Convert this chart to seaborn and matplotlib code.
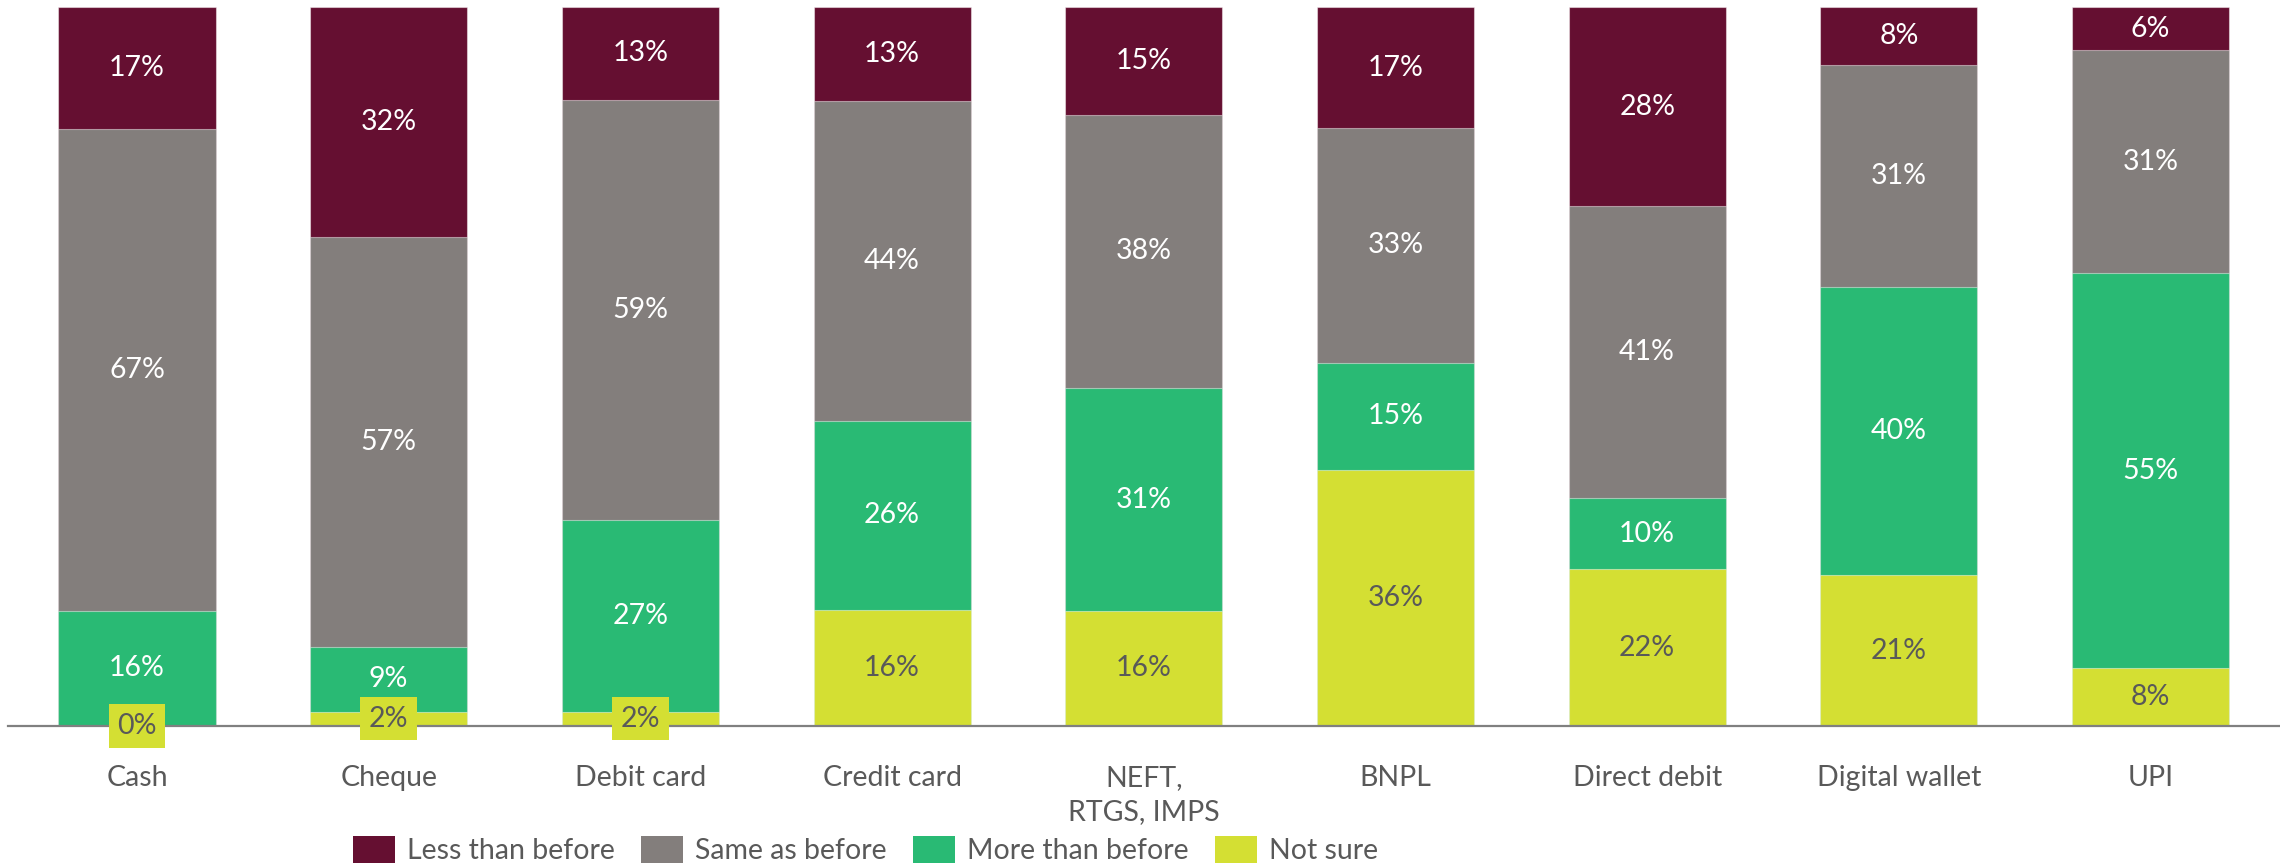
import numpy as np
import pandas as pd
import matplotlib
matplotlib.use("Agg")
import matplotlib.pyplot as plt
import seaborn as sns
from matplotlib.patches import Patch

# Payment methods and survey responses (% of respondents)
categories = ["Cash", "Cheque", "Debit card", "Credit card", "NEFT,\nRTGS, IMPS",
              "BNPL", "Direct debit", "Digital wallet", "UPI"]
less_than_before = [17, 32, 13, 13, 15, 17, 28, 8, 6]
same_as_before = [67, 57, 59, 44, 38, 33, 41, 31, 31]
more_than_before = [16, 9, 27, 26, 31, 15, 10, 40, 55]
not_sure = [0, 2, 2, 16, 16, 36, 22, 21, 8]

series_names = ["Less than before", "Same as before", "More than before", "Not sure"]
colors = {
    "Less than before": "#650f31",
    "Same as before": "#837e7c",
    "More than before": "#29ba74",
    "Not sure": "#d4df33",
}
text_dark = "#595959"

sns.set_theme(style="white")
plt.rcParams["font.family"] = ["Lato", "DejaVu Sans"]

# Stack from the bottom: Not sure, More, Same, Less (100% stacked)
stack_order = ["Not sure", "More than before", "Same as before", "Less than before"]
vals = {
    "Less than before": np.array(less_than_before, float),
    "Same as before": np.array(same_as_before, float),
    "More than before": np.array(more_than_before, float),
    "Not sure": np.array(not_sure, float),
}
total = sum(vals[s] for s in stack_order)
shares = {s: vals[s] / total * 100 for s in stack_order}

bottoms = {}
tops = {}
running = np.zeros(len(categories))
for s in stack_order:
    bottoms[s] = running.copy()
    running = running + shares[s]
    tops[s] = running.copy()

df = pd.DataFrame({"category": categories})
for s in stack_order:
    df[s] = tops[s]

fig = plt.figure(figsize=(22.8, 8.66), dpi=100)
ax = fig.add_axes([8 / 2280, 140 / 866, 2272 / 2280, 719 / 866])

# Draw cumulative heights from the top series down so each layer overlays the previous
for s in reversed(stack_order):
    sns.barplot(data=df, x="category", y=s, color=colors[s], width=0.624,
                saturation=1, edgecolor=(1, 1, 1, 0.45), linewidth=0.8, ax=ax)

fs = 20.5
for s in stack_order:
    for i in range(len(categories)):
        y = bottoms[s][i] + shares[s][i] / 2
        label = f"{int(vals[s][i])}%"
        if s == "Not sure":
            ax.text(i, y, label, ha="center", va="center", fontsize=fs,
                    color=text_dark, zorder=5,
                    bbox=dict(boxstyle="square,pad=0.3", facecolor=colors[s],
                              edgecolor="none"))
        else:
            ax.text(i, y, label, ha="center", va="center", fontsize=fs,
                    color="white", zorder=5)

ax.set_xlim(-0.5125, 8.5145)
ax.set_ylim(0, 100)
ax.set_xlabel("")
ax.set_ylabel("")
ax.set_yticks([])
ax.tick_params(axis="x", length=0, pad=28, labelsize=fs, labelcolor=text_dark)
for lbl in ax.get_xticklabels():
    lbl.set_linespacing(1.4)
for side in ["left", "right", "top"]:
    ax.spines[side].set_visible(False)
ax.spines["bottom"].set_color("#808080")
ax.spines["bottom"].set_linewidth(1.6)
ax.spines["bottom"].set_zorder(3)

handles = [Patch(facecolor=colors[s], edgecolor="none", label=s) for s in series_names]
fig.legend(handles=handles, loc="lower left", bbox_to_anchor=(353 / 2280, 2 / 866),
           ncol=4, frameon=False, fontsize=fs, labelcolor=text_dark,
           handlelength=1.46, handleheight=1.08, handletextpad=0.42,
           columnspacing=0.94, borderpad=0, borderaxespad=0)

fig.savefig("out.png", dpi=100)
